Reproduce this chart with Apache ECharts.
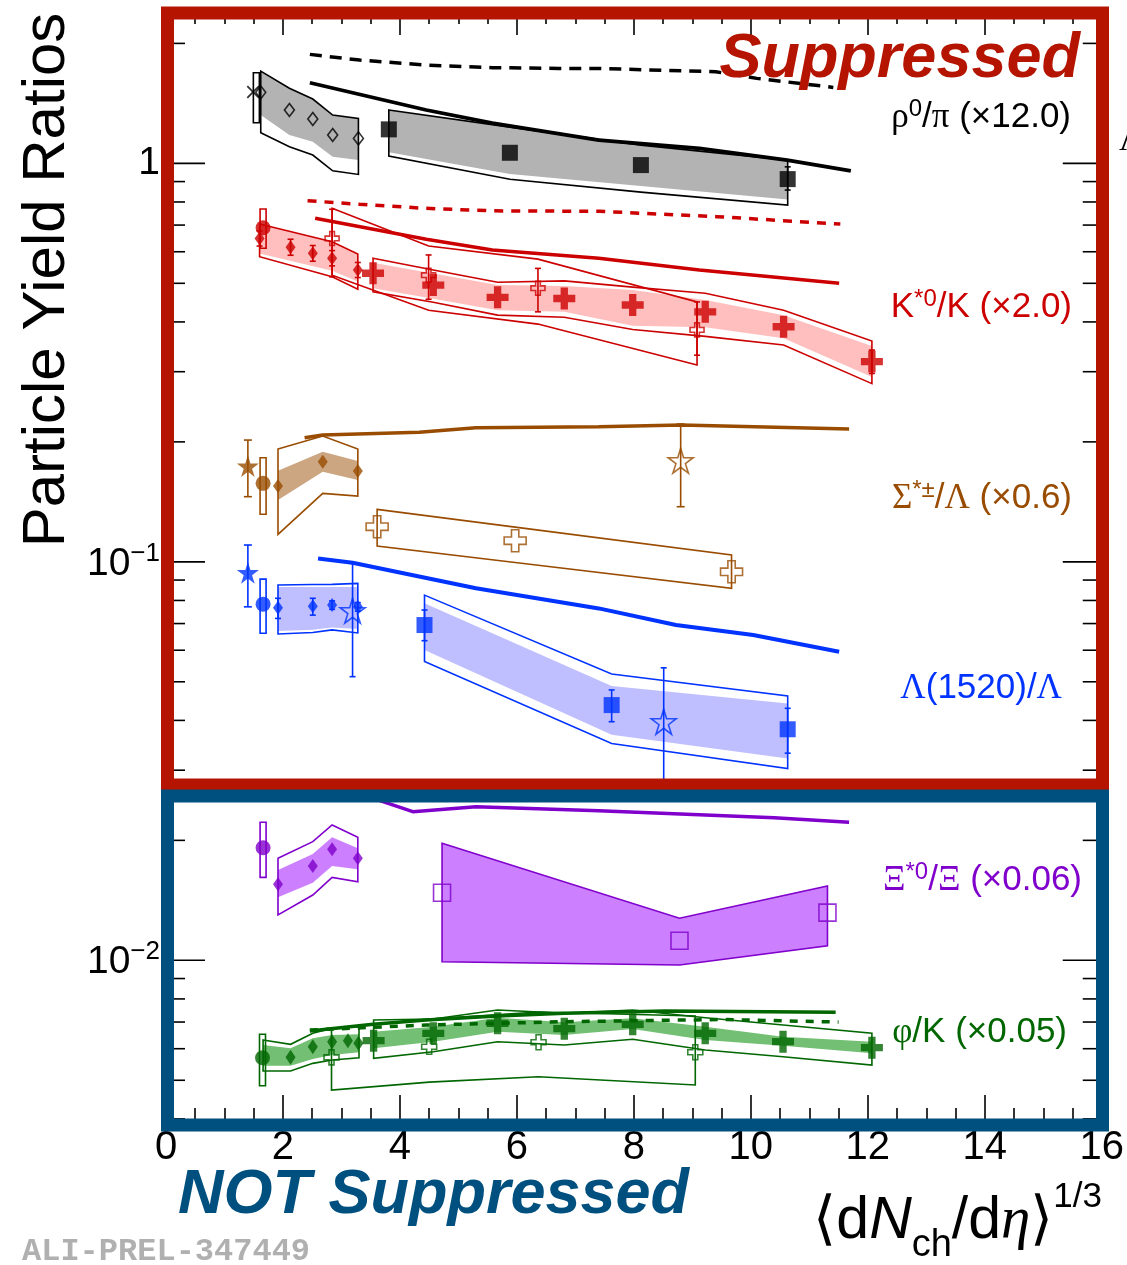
<!DOCTYPE html>
<html><head><meta charset="utf-8">
<script src="https://cdn.jsdelivr.net/npm/echarts/dist/echarts.min.js"></script>
<style>html,body{margin:0;padding:0;background:#fff}#c{width:1127px;height:1265px}</style>
</head><body><div id="c"></div><script>
// ---------- axes ----------
const X_MIN = 0, X_MAX = 16, X_STEP = 2;
const Y_MIN = 0.003861, Y_MAX = 2.384;
const yMajorTicks = [0.01, 0.1, 1];
const yMinorTicks = [0.004,0.005,0.006,0.007,0.008,0.009,0.02,0.03,0.04,0.05,0.06,0.07,0.08,0.09,0.2,0.3,0.4,0.5,0.6,0.7,0.8,0.9,2];

// ---------- rho0/pi (x12) ----------
const rhoDashX = [2.46, 3.31, 4.45, 5.58, 6.72, 7.40, 9.40, 10.10, 11.41];
const rhoDashY = [1.877, 1.816, 1.765, 1.738, 1.731, 1.730, 1.698, 1.634, 1.551];
const rhoSolidX = [2.46, 4.45, 5.58, 7.40, 9.12, 10.62, 11.71];
const rhoSolidY = [1.593, 1.361, 1.262, 1.144, 1.091, 1.019, 0.958];
const rhoXmX = [1.49], rhoXmY = [1.51];
const rhoXBoxX = [1.545], rhoXBoxLo = [1.264], rhoXBoxHi = [1.688];
const rhoDiaX = [1.62, 2.11, 2.51, 2.85, 3.29];
const rhoDiaY = [1.507, 1.361, 1.292, 1.178, 1.155];
const rhoDiaBandHi = [1.704, 1.543, 1.450, 1.322, 1.297];
const rhoDiaBandLo = [1.322, 1.178, 1.133, 1.039, 1.019];
const rhoDiaBoxLo = [1.193, 1.101, 1.049, 0.958, 0.938];
const rhoSqX = [3.81, 5.88, 8.12, 10.63];
const rhoSqY = [1.217, 1.063, 0.990, 0.913];
const rhoSqBandHi = [1.361, 1.233, 1.111, 1.019];
const rhoSqBandLo = [1.067, 0.940, 0.877, 0.812];
const rhoSqBoxLo = [1.043, 0.912, 0.847, 0.786];
const rhoSqErrX = [10.63], rhoSqErrLo = [0.857], rhoSqErrHi = [0.980];

// ---------- K*0/K (x2) ----------
const kDashX = [2.42, 3.31, 4.45, 5.58, 7.40, 9.41, 11.53];
const kDashY = [0.806, 0.789, 0.771, 0.760, 0.758, 0.735, 0.704];
const kSolidX = [2.55, 4.45, 5.58, 7.40, 9.12, 11.51];
const kSolidY = [0.728, 0.645, 0.606, 0.578, 0.540, 0.500];
const kCircX = [1.66], kCircY = [0.689], kCircBoxLo = [0.612], kCircBoxHi = [0.768];
const kDiaX = [1.60, 2.13, 2.51, 2.84, 3.28];
const kDiaY = [0.648, 0.616, 0.595, 0.578, 0.540];
const kDiaErrLo = [0.620, 0.588, 0.568, 0.553, 0.517];
const kDiaErrHi = [0.677, 0.645, 0.622, 0.604, 0.564];
const kDiaBandX = [1.60, 2.84, 3.28];
const kDiaBandHi = [0.704, 0.636, 0.592];
const kDiaBandLo = [0.594, 0.538, 0.505];
const kDiaBoxLo = [0.583, 0.519, 0.483];
const kCrossX = [3.54, 4.57, 5.67, 6.81, 7.98, 9.22, 10.56, 12.07];
const kCrossY = [0.530, 0.495, 0.461, 0.458, 0.441, 0.424, 0.389, 0.318];
const kCrossBandHi = [0.563, 0.529, 0.495, 0.492, 0.481, 0.454, 0.416, 0.348];
const kCrossBandLo = [0.486, 0.457, 0.428, 0.424, 0.391, 0.388, 0.364, 0.291];
const kCrossBoxHi = [0.578, 0.540, 0.503, 0.507, 0.489, 0.472, 0.428, 0.358];
const kCrossBoxLo = [0.476, 0.448, 0.416, 0.411, 0.383, 0.368, 0.350, 0.280];
const kCrossErrX = [12.07], kCrossErrLo = [0.297], kCrossErrHi = [0.340];
const kOpenX = [2.84, 4.49, 6.36, 9.08];
const kOpenY = [0.648, 0.524, 0.486, 0.382];
const kOpenErrLo = [0.519, 0.456, 0.424, 0.330];
const kOpenErrHi = [0.767, 0.589, 0.545, 0.449];
const kOpenBoxHi = [0.771, 0.620, 0.575, 0.449];
const kOpenBoxLo = [0.524, 0.428, 0.395, 0.312];

// ---------- Sigma*/Lambda (x0.6) ----------
const sigSolidX = [2.37, 2.68, 4.33, 5.30, 7.40, 8.81, 11.68];
const sigSolidY = [0.2048, 0.2080, 0.2113, 0.2170, 0.2183, 0.2205, 0.2155];
const sigStarX = [1.40], sigStarY = [0.1739], sigStarErrLo = [0.1457], sigStarErrHi = [0.2021];
const sigCircX = [1.66], sigCircY = [0.1574], sigCircBoxLo = [0.1316], sigCircBoxHi = [0.1825];
const sigDiaX = [1.915, 2.68, 3.28];
const sigDiaY = [0.155, 0.1783, 0.169];
const sigDiaBandHi = [0.1693, 0.1889, 0.1791];
const sigDiaBandLo = [0.1429, 0.1684, 0.1604];
const sigDiaBoxHi = [0.1919, 0.2068, 0.1919];
const sigDiaBoxLo = [0.1172, 0.1485, 0.1462];
const sigOpenX = [3.61, 5.97, 9.67];
const sigOpenY = [0.1225, 0.1130, 0.0944];
const sigOpenBoxHi = [0.1354, 0.1222, 0.1040];
const sigOpenBoxLo = [0.1095, 0.0996, 0.0858];
const sigOStarX = [8.80], sigOStarY = [0.1794], sigOStarErrLo = [0.1375], sigOStarErrHi = [0.2217];

// ---------- Lambda(1520)/Lambda ----------
const lamSolidX = [2.60, 3.19, 5.30, 7.40, 8.72, 10.04, 11.51];
const lamSolidY = [0.1020, 0.0995, 0.0858, 0.0764, 0.0694, 0.0655, 0.0595];
const lamStarX = [1.40], lamStarY = [0.0939], lamStarErrLo = [0.0771], lamStarErrHi = [0.1102];
const lamCircX = [1.66], lamCircY = [0.0783], lamCircBoxLo = [0.0662], lamCircBoxHi = [0.0905];
const lamDiaX = [1.915, 2.51, 2.84, 3.28];
const lamDiaY = [0.0767, 0.0774, 0.0779, 0.0771];
const lamDiaErrLo = [0.0721, 0.0735, 0.0760, 0.0752];
const lamDiaErrHi = [0.0810, 0.0810, 0.0798, 0.0790];
const lamDiaBandHi = [0.0865, 0.0865, 0.0865, 0.0865];
const lamDiaBandLo = [0.0671, 0.0675, 0.0684, 0.0678];
const lamDiaBoxHi = [0.0875, 0.0877, 0.0878, 0.0883];
const lamDiaBoxLo = [0.0659, 0.0665, 0.0675, 0.0663];
const lamOStarX = [3.19, 8.51], lamOStarY = [0.0754, 0.0397];
const lamOStarErrLo = [0.0515, 0.0275], lamOStarErrHi = [0.0991, 0.0542];
const lamSqX = [4.42, 7.62, 10.63];
const lamSqY = [0.0694, 0.0437, 0.0380];
const lamSqErrLo = [0.0634, 0.0397, 0.0331];
const lamSqErrHi = [0.0757, 0.0477, 0.0429];
const lamSqBandHi = [0.0787, 0.0488, 0.0441];
const lamSqBandLo = [0.0601, 0.0368, 0.0321];
const lamSqBoxHi = [0.0825, 0.0523, 0.0461];
const lamSqBoxLo = [0.0562, 0.0350, 0.0303];

// ---------- Xi*0/Xi (x0.06) ----------
const xiSolidX = [3.00, 3.76, 4.22, 5.30, 7.40, 10.40, 11.68];
const xiSolidY = [0.02712, 0.02486, 0.02360, 0.02430, 0.02373, 0.02279, 0.02220];
const xiCircX = [1.66], xiCircY = [0.01917], xiCircBoxLo = [0.01615], xiCircBoxHi = [0.0222];
const xiDiaX = [1.915, 2.51, 2.84, 3.28];
const xiDiaY = [0.01551, 0.01724, 0.0190, 0.01803];
const xiDiaBandHi = [0.01685, 0.01848, 0.02036, 0.0191];
const xiDiaBandLo = [0.01439, 0.01566, 0.01724, 0.01692];
const xiDiaBoxHi = [0.01803, 0.01985, 0.02186, 0.02036];
const xiDiaBoxLo = [0.0130, 0.01458, 0.01615, 0.01575];
const xiOpenX = [4.72, 8.78, 11.31];
const xiOpenY = [0.01478, 0.01120, 0.01317];
const xiOpenBandHi = [0.01966, 0.01275, 0.01537];
const xiOpenBandLo = [0.00992, 0.00973, 0.01088];

// ---------- phi/K (x0.05) ----------
const phiSolidX = [2.46, 3.54, 4.45, 5.67, 6.81, 8.54, 11.45];
const phiSolidY = [0.006646, 0.006909, 0.007083, 0.007249, 0.007362, 0.007462, 0.007405];
const phiDashX = [2.46, 4.45, 6.81, 9.50, 11.50];
const phiDashY = [0.006685, 0.006881, 0.007013, 0.007103, 0.007001];
const phiCircX = [1.65], phiCircY = [0.005695], phiCircBoxLo = [0.004845], phiCircBoxHi = [0.006521];
const phiDiaX = [2.13, 2.51, 2.84, 3.11, 3.29];
const phiDiaY = [0.005708, 0.006070, 0.006248, 0.006284, 0.006190];
const phiDiaBandX = [1.66, 2.13, 2.51, 2.84, 3.30];
const phiDiaBandHi = [0.006130, 0.006015, 0.006372, 0.006495, 0.006521];
const phiDiaBandLo = [0.005438, 0.005438, 0.005653, 0.005785, 0.005876];
const phiDiaBoxHi = [0.006310, 0.006155, 0.006559, 0.006753, 0.006815];
const phiDiaBoxLo = [0.005277, 0.005277, 0.005513, 0.005621, 0.005695];
const phiCrossX = [3.55, 4.57, 5.67, 6.81, 7.98, 9.22, 10.55, 12.07];
const phiCrossY = [0.006284, 0.006559, 0.006949, 0.006737, 0.006909, 0.006559, 0.006248, 0.006035];
const phiCrossBandHi = [0.006619, 0.006815, 0.007178, 0.006989, 0.007153, 0.006815, 0.006432, 0.006248];
const phiCrossBandLo = [0.006015, 0.006248, 0.006619, 0.006495, 0.006725, 0.006310, 0.006105, 0.005843];
const phiCrossBoxHi = [0.007083, 0.007124, 0.007505, 0.007362, 0.007505, 0.007178, 0.006881, 0.006559];
const phiCrossBoxLo = [0.005676, 0.005896, 0.006248, 0.006130, 0.006335, 0.005953, 0.005728, 0.005460];
const phiOpenX = [2.83, 4.50, 6.37, 9.05];
const phiOpenY = [0.005708, 0.006070, 0.006226, 0.005876];
const phiOpenBoxHi = [0.006753, 0.007124, 0.007419, 0.007249];
const phiOpenBoxLo = [0.004726, 0.004947, 0.005103, 0.004865];

// ---------- styling ----------
const COL = {black:'#000000', gray:'#b3b3b3', red:'#cc0000', pink:'#ffbfbf', brown:'#994c00', tan:'#cca680',
  blue:'#0033ff', lblue:'#bfbfff', purple:'#8000cc', lpurple:'#cc80ff', green:'#006600', lgreen:'#73bf73'};
const SYM = {
  cross: 'path://M-1,-3L1,-3L1,-1L3,-1L3,1L1,1L1,3L-1,3L-1,1L-3,1L-3,-1L-1,-1Z',
  star: 'path://M0,-100L22,-31L95,-31L36,12L59,81L0,38L-59,81L-36,12L-95,-31L-22,-31Z',
  xmark: 'path://M-3,-2.4L-2.4,-3L0,-0.6L2.4,-3L3,-2.4L0.6,0L3,2.4L2.4,3L0,0.6L-2.4,3L-3,2.4L-0.6,0Z'
};
const FONT = '"Liberation Sans", Arial, Helvetica, sans-serif';
const SERIF = '"Liberation Serif", "DejaVu Serif", serif';

const zip = (xs, ys) => xs.map((x, i) => [x, ys[i]]);
const series = [];

function band(xs, hi, lo, fill, stroke, z) {
  series.push({type:'custom', silent:true, z: z || 1, data:[[xs[0], hi[0]]],
    renderItem: function (params, api) {
      const pts = [];
      for (let i = 0; i < xs.length; i++) pts.push(api.coord([xs[i], hi[i]]));
      for (let i = xs.length - 1; i >= 0; i--) pts.push(api.coord([xs[i], lo[i]]));
      return {type:'polygon', shape:{points:pts},
        style:{fill: fill || 'none', stroke: stroke || 'none', lineWidth: 1.6}};
    }});
}
function errs(xs, lo, hi, color, cap) {
  const w = cap === undefined ? 4 : cap;
  series.push({type:'custom', silent:true, z:4, data: xs.map((x, i) => [x, lo[i], hi[i]]),
    renderItem: function (params, api) {
      const x = api.value(0);
      const a = api.coord([x, api.value(1)]), b = api.coord([x, api.value(2)]);
      const st = {stroke: color, lineWidth: 1.6};
      return {type:'group', children:[
        {type:'line', shape:{x1:a[0], y1:a[1], x2:b[0], y2:b[1]}, style:st},
        {type:'line', shape:{x1:a[0]-w, y1:a[1], x2:a[0]+w, y2:a[1]}, style:st},
        {type:'line', shape:{x1:b[0]-w, y1:b[1], x2:b[0]+w, y2:b[1]}, style:st}]};
    }});
}
function boxes(xs, lo, hi, color) {
  series.push({type:'custom', silent:true, z:4, data: xs.map((x, i) => [x, lo[i], hi[i]]),
    renderItem: function (params, api) {
      const x = api.value(0);
      const a = api.coord([x, api.value(1)]), b = api.coord([x, api.value(2)]);
      return {type:'rect', shape:{x:a[0]-3, y:b[1], width:6, height:a[1]-b[1]},
        style:{fill:'none', stroke:color, lineWidth:1.6}};
    }});
}
function pts(xs, ys, symbol, size, color, open, z) {
  series.push({type:'scatter', silent:true, z: z || 6, symbol: symbol, symbolSize: size,
    data: zip(xs, ys),
    itemStyle: open ? {color:'rgba(255,255,255,0)', borderColor: color, borderWidth: 1.6}
                    : {color: color, borderWidth: 0}});
}
function curve(xs, ys, color, dash, width) {
  series.push({type:'line', silent:true, z:3, symbol:'none', data: zip(xs, ys),
    lineStyle:{color: color, width: width || 3.5, type: dash || 'solid', cap:'butt'}});
}

// rho
band(rhoDiaX, rhoDiaBandHi, rhoDiaBandLo, COL.gray, null);
band(rhoDiaX, rhoDiaBandHi, rhoDiaBoxLo, null, COL.black, 2);
band(rhoSqX, rhoSqBandHi, rhoSqBandLo, COL.gray, null);
band(rhoSqX, rhoSqBandHi, rhoSqBoxLo, null, COL.black, 2);
curve(rhoDashX, rhoDashY, COL.black, [12, 8], 3.5);
curve(rhoSolidX, rhoSolidY, COL.black, 'solid', 3.8);
boxes(rhoXBoxX, rhoXBoxLo, rhoXBoxHi, COL.black);
errs(rhoSqErrX, rhoSqErrLo, rhoSqErrHi, COL.black, 3);
pts(rhoXmX, rhoXmY, SYM.xmark, 13, COL.black, false);
pts(rhoDiaX, rhoDiaY, 'diamond', [10, 13], COL.black, true);
pts(rhoSqX, rhoSqY, 'rect', 16, COL.black, false);

// K*
band(kDiaBandX, kDiaBandHi, kDiaBandLo, COL.pink, null);
band(kDiaBandX, kDiaBandHi, kDiaBoxLo, null, COL.red, 2);
band(kCrossX, kCrossBandHi, kCrossBandLo, COL.pink, null);
band(kCrossX, kCrossBoxHi, kCrossBoxLo, null, COL.red, 2);
band(kOpenX, kOpenBoxHi, kOpenBoxLo, null, COL.red, 2);
curve(kDashX, kDashY, COL.red, [9, 8], 3.5);
curve(kSolidX, kSolidY, COL.red, 'solid', 3.5);
boxes(kCircX, kCircBoxLo, kCircBoxHi, COL.red);
errs(kDiaX, kDiaErrLo, kDiaErrHi, COL.red, 3);
errs(kOpenX, kOpenErrLo, kOpenErrHi, COL.red, 3);
errs(kCrossErrX, kCrossErrLo, kCrossErrHi, COL.red, 3);
pts(kCircX, kCircY, 'circle', 15, COL.red, false);
pts(kDiaX, kDiaY, 'diamond', [10, 14], COL.red, false);
pts(kOpenX, kOpenY, SYM.cross, 14, COL.red, true);
pts(kCrossX, kCrossY, SYM.cross, 22, COL.red, false);

// Sigma*
band(sigDiaX, sigDiaBandHi, sigDiaBandLo, COL.tan, null);
band(sigDiaX, sigDiaBoxHi, sigDiaBoxLo, null, COL.brown, 2);
band(sigOpenX, sigOpenBoxHi, sigOpenBoxLo, null, COL.brown, 2);
curve(sigSolidX, sigSolidY, COL.brown, 'solid', 3.5);
errs(sigStarX, sigStarErrLo, sigStarErrHi, COL.brown, 4);
errs(sigOStarX, sigOStarErrLo, sigOStarErrHi, COL.brown, 4);
boxes(sigCircX, sigCircBoxLo, sigCircBoxHi, COL.brown);
pts(sigStarX, sigStarY, SYM.star, 22, COL.brown, false);
pts(sigCircX, sigCircY, 'circle', 15, COL.brown, false);
pts(sigDiaX, sigDiaY, 'diamond', [10, 14], COL.brown, false);
pts(sigOpenX, sigOpenY, SYM.cross, 22, COL.brown, true);
pts(sigOStarX, sigOStarY, SYM.star, 25, COL.brown, true);

// Lambda(1520)
band(lamDiaX, lamDiaBandHi, lamDiaBandLo, COL.lblue, null);
band(lamDiaX, lamDiaBoxHi, lamDiaBoxLo, null, COL.blue, 2);
band(lamSqX, lamSqBandHi, lamSqBandLo, COL.lblue, null);
band(lamSqX, lamSqBoxHi, lamSqBoxLo, null, COL.blue, 2);
curve(lamSolidX, lamSolidY, COL.blue, 'solid', 4);
errs(lamStarX, lamStarErrLo, lamStarErrHi, COL.blue, 4);
errs(lamDiaX, lamDiaErrLo, lamDiaErrHi, COL.blue, 3);
errs(lamOStarX, lamOStarErrLo, lamOStarErrHi, COL.blue, 3);
errs(lamSqX, lamSqErrLo, lamSqErrHi, COL.blue, 3);
boxes(lamCircX, lamCircBoxLo, lamCircBoxHi, COL.blue);
pts(lamStarX, lamStarY, SYM.star, 22, COL.blue, false);
pts(lamCircX, lamCircY, 'circle', 15, COL.blue, false);
pts(lamDiaX, lamDiaY, 'diamond', [10, 14], COL.blue, false);
pts(lamOStarX, lamOStarY, SYM.star, 25, COL.blue, true);
pts(lamSqX, lamSqY, 'rect', 16, COL.blue, false);

// Xi*
band(xiDiaX, xiDiaBandHi, xiDiaBandLo, COL.lpurple, null);
band(xiDiaX, xiDiaBoxHi, xiDiaBoxLo, null, COL.purple, 2);
band(xiOpenX, xiOpenBandHi, xiOpenBandLo, COL.lpurple, COL.purple, 1);
curve(xiSolidX, xiSolidY, COL.purple, 'solid', 3.5);
boxes(xiCircX, xiCircBoxLo, xiCircBoxHi, COL.purple);
pts(xiCircX, xiCircY, 'circle', 15, COL.purple, false);
pts(xiDiaX, xiDiaY, 'diamond', [10, 14], COL.purple, false);
pts(xiOpenX, xiOpenY, 'rect', 17, COL.purple, true);

// phi
band(phiDiaBandX, phiDiaBandHi, phiDiaBandLo, COL.lgreen, null);
band(phiDiaBandX, phiDiaBoxHi, phiDiaBoxLo, null, COL.green, 2);
band(phiCrossX, phiCrossBandHi, phiCrossBandLo, COL.lgreen, null);
band(phiCrossX, phiCrossBoxHi, phiCrossBoxLo, null, COL.green, 2);
band(phiOpenX, phiOpenBoxHi, phiOpenBoxLo, null, COL.green, 2);
curve(phiSolidX, phiSolidY, COL.green, 'solid', 3.5);
curve(phiDashX, phiDashY, COL.green, [8, 8], 3.5);
boxes(phiCircX, phiCircBoxLo, phiCircBoxHi, COL.green);
pts(phiCircX, phiCircY, 'circle', 15, COL.green, false);
pts(phiDiaX, phiDiaY, 'diamond', [10, 15], COL.green, false);
pts(phiOpenX, phiOpenY, SYM.cross, 15, COL.green, true);
pts(phiCrossX, phiCrossY, SYM.cross, 22, COL.green, false);

// y-axis ticks (log minor ticks at 2..9 x decade), both sides
function yTicks(vals, len) {
  series.push({type:'custom', silent:true, z:7, data: vals.map(v => [X_MIN, v]),
    renderItem: function (params, api) {
      const v = api.value(1);
      const l = api.coord([X_MIN, v]), r = api.coord([X_MAX, v]);
      const st = {stroke:'#000', lineWidth:1.6};
      return {type:'group', children:[
        {type:'line', shape:{x1:l[0], y1:l[1], x2:l[0]+len, y2:l[1]}, style:st},
        {type:'line', shape:{x1:r[0]-len, y1:r[1], x2:r[0], y2:r[1]}, style:st}]};
    }});
}
yTicks(yMajorTicks, 39);
yTicks(yMinorTicks, 19);

function yLabel(v) {
  const l = Math.log10(v), e = Math.round(l);
  if (Math.abs(l - e) > 1e-6 || v < Y_MIN * 1.01 || v > Y_MAX * 0.99) return '';
  return e === 0 ? '{b|1}' : '{b|10}{s|\u2212' + (-e) + '}';
}

const graphics = [
  {type:'rect', z:100, shape:{x:167.5, y:13, width:935, height:772}, style:{fill:'none', stroke:'#b41400', lineWidth:13}},
  {type:'rect', z:101, shape:{x:167.5, y:796, width:935, height:329}, style:{fill:'none', stroke:'#00507f', lineWidth:13}},
  {type:'text', z:102, x:1080, y:60, style:{text:'Suppressed', fill:'#b41400', font:'italic bold 63px ' + FONT, align:'right', verticalAlign:'middle'}},
  {type:'text', z:102, x:178, y:1196, style:{text:'NOT Suppressed', fill:'#00507f', font:'italic bold 63px ' + FONT, align:'left', verticalAlign:'middle'}},
  {type:'text', z:102, x:22, y:1252, style:{text:'ALI-PREL-347449', fill:'#b0b0b0', font:'bold 32px "Liberation Mono", "DejaVu Sans Mono", monospace', align:'left', verticalAlign:'middle'}},
  {type:'text', z:102, x:47, y:280, rotation:Math.PI/2, style:{text:'Particle Yield Ratios', fill:'#000', font:'60px ' + FONT, align:'center', verticalAlign:'middle'}},
  {type:'text', z:102, x:1102, y:1265, style:{
    text:'{m|\u27e8d}{mi|N}{sub|ch}{m|/d}{gi|\u03b7}{m|\u27e9}{sup|1/3}', align:'right', verticalAlign:'bottom', fill:'#000',
    rich:{
      m:{fontSize:59, fontFamily:FONT, verticalAlign:'bottom', padding:[0,0,14,0], fill:'#000'},
      mi:{fontSize:59, fontFamily:FONT, fontStyle:'italic', verticalAlign:'bottom', padding:[0,0,14,0], fill:'#000'},
      gi:{fontSize:59, fontFamily:SERIF, fontStyle:'italic', verticalAlign:'bottom', padding:[0,0,14,0], fill:'#000'},
      sub:{fontSize:38, fontFamily:FONT, verticalAlign:'bottom', padding:[0,0,0,0], fill:'#000'},
      sup:{fontSize:35, fontFamily:FONT, verticalAlign:'bottom', padding:[0,0,50,0], fill:'#000'}
    }}}
];
function seriesLabel(text, color, xr, yb) {
  graphics.push({type:'text', z:102, x:xr, y:yb, style:{text:text, align:'right', verticalAlign:'bottom', fill:color,
    rich:{
      m:{fontSize:35, fontFamily:FONT, verticalAlign:'bottom', fill:color},
      g:{fontSize:35, fontFamily:SERIF, verticalAlign:'bottom', fill:color},
      sup:{fontSize:24, fontFamily:FONT, verticalAlign:'bottom', padding:[0,0,14,0], fill:color}
    }}});
}
seriesLabel('{g|\u03c1}{sup|0}{m|/}{g|\u03c0}{m| (\u00d712.0)}', COL.black, 1071, 135);
seriesLabel('{m|K}{sup|*0}{m|/K (\u00d72.0)}', COL.red, 1072, 325);
seriesLabel('{g|\u03a3}{sup|*\u00b1}{m|/}{g|\u039b}{m| (\u00d70.6)}', COL.brown, 1072, 516);
seriesLabel('{g|\u039b}{m|(1520)/}{g|\u039b}', COL.blue, 1062, 706);
seriesLabel('{g|\u039e}{sup|*0}{m|/}{g|\u039e}{m| (\u00d70.06)}', COL.purple, 1082, 898);
seriesLabel('{g|\u03c6}{m|/K (\u00d70.05)}', COL.green, 1067, 1050);
graphics.push({type:'text', z:102, x:1119, y:141, style:{text:'\u039b', fill:'#000', font:'34px ' + SERIF, align:'left', verticalAlign:'middle'}});

const tickStyle = {color:'#000', width:1.6};
const option = {
  animation: false,
  backgroundColor: '#fff',
  grid: {left:166, right:23, top:13, bottom:140, containLabel:false},
  xAxis: [
    {type:'value', min:X_MIN, max:X_MAX, interval:X_STEP, position:'bottom',
      axisLine:{show:false}, splitLine:{show:false},
      axisTick:{show:true, inside:true, length:30, lineStyle:tickStyle},
      minorTick:{show:true, splitNumber:4, length:17, lineStyle:tickStyle},
      axisLabel:{show:true, margin:3, fontSize:40, fontFamily:FONT, color:'#000'}},
    {type:'value', min:X_MIN, max:X_MAX, interval:X_STEP, position:'top',
      axisLine:{show:false}, splitLine:{show:false},
      axisTick:{show:true, inside:true, length:22, lineStyle:tickStyle},
      minorTick:{show:true, splitNumber:4, length:11, lineStyle:tickStyle},
      axisLabel:{show:false}}
  ],
  yAxis: {type:'log', logBase:10, min:Y_MIN, max:Y_MAX,
    axisLine:{show:false}, splitLine:{show:false}, axisTick:{show:false}, minorTick:{show:false},
    axisLabel:{show:true, margin:6, formatter:yLabel, color:'#000', showMinLabel:false, showMaxLabel:false,
      rich:{b:{fontSize:39, fontFamily:FONT, verticalAlign:'bottom', color:'#000'},
            s:{fontSize:26, fontFamily:FONT, verticalAlign:'bottom', padding:[0,0,17,0], color:'#000'}}}},
  graphic: graphics,
  series: series
};
const chart = echarts.init(document.getElementById('c'));
chart.setOption(option);
</script></body></html>
